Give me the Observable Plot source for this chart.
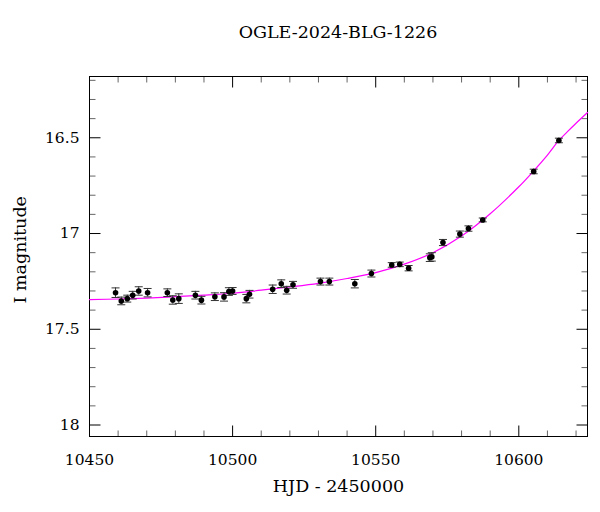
<!DOCTYPE html>
<html><head><meta charset="utf-8">
<script src="https://cdn.jsdelivr.net/npm/d3@7"></script>
<script src="https://cdn.jsdelivr.net/npm/@observablehq/plot@0.6"></script>
<style>
body{margin:0;background:#fff;font-family:"DejaVu Serif",serif;color:#000}
#title{position:relative;height:56px;width:600px}
#title span{position:absolute;left:89px;width:498px;text-align:center;top:22px;font-size:17.5px}
</style></head><body>
<div id="title"><span id="ttl"></span></div>
<div id="chart"></div>
<script>
const chartTitle = "OGLE-2024-BLG-1226";
const xLabel = "HJD - 2450000";
const yLabel = "I magnitude";

const hjd = [10459.1,10461.1,10463.2,10465.1,10467.2,10470.3,10477.2,10479.1,10481.2,10487.0,10489.1,10493.8,10497.0,10498.7,10500.0,10504.8,10505.9,10514.0,10517.0,10518.9,10521.1,10530.7,10533.8,10542.7,10548.5,10555.6,10558.4,10561.5,10568.9,10569.6,10573.5,10579.4,10582.4,10587.4,10605.2,10614.0];
const mag = [17.309,17.352,17.340,17.322,17.300,17.309,17.309,17.347,17.340,17.322,17.348,17.330,17.331,17.303,17.300,17.340,17.317,17.291,17.262,17.296,17.268,17.251,17.251,17.262,17.209,17.164,17.161,17.181,17.126,17.122,17.047,17.003,16.974,16.929,16.676,16.514];
const magErr = [0.025,0.020,0.018,0.020,0.022,0.022,0.020,0.022,0.025,0.020,0.020,0.020,0.022,0.020,0.018,0.022,0.020,0.022,0.020,0.020,0.018,0.018,0.018,0.022,0.018,0.012,0.012,0.014,0.020,0.022,0.016,0.016,0.014,0.010,0.012,0.012];

const modelHjd = [10450,10460,10470,10480,10490,10500,10510,10520,10530,10540,10550,10560,10570,10580,10590,10600,10605,10610,10614,10617,10620,10624];
const modelMag = [17.345,17.342,17.337,17.330,17.322,17.312,17.296,17.279,17.260,17.235,17.204,17.160,17.100,17.013,16.897,16.756,16.676,16.590,16.514,16.468,16.424,16.368];

const xMajor = [10450,10500,10550,10600];
const xMinor = [10460,10470,10480,10490,10510,10520,10530,10540,10560,10570,10580,10590,10610,10620];
const yMajor = [16.5,17,17.5,18];
const yMinor = [16.2,16.3,16.4,16.6,16.7,16.8,16.9,17.1,17.2,17.3,17.4,17.6,17.7,17.8,17.9];

document.getElementById("ttl").textContent = chartTitle;

const obs = hjd.map((x,i)=>({x, m: mag[i], e: magErr[i]}));
const model = modelHjd.map((x,i)=>({x, m: modelMag[i]}));

const sym = (dx,dy)=>({draw(ctx,size){const l=Math.sqrt(size/Math.PI);ctx.moveTo(0,0);ctx.lineTo(dx*l,dy*l);}});
const capSym = {draw(ctx,size){const l=Math.sqrt(size/Math.PI);ctx.moveTo(-l,0);ctx.lineTo(l,0);}};
const up=sym(0,-1), down=sym(0,1), right=sym(1,0), left=sym(-1,0);
const MAJ=11, MIN=6;
const tk = (data, ch, anchor, symbol, r, stroke) => Plot.dot(data, {[ch]: d=>d, frameAnchor: anchor, symbol, r, stroke, strokeWidth:1, fill:"none"});

const plot = Plot.plot({
  width: 600, height: 456,
  marginLeft: 89, marginRight: 13, marginTop: 20, marginBottom: 76,
  style: {fontFamily: "DejaVu Serif, serif", fontSize: "15.5px", color: "#000", background: "#fff"},
  x: {domain: [10450, 10624]},
  y: {domain: [16.18, 18.06], reverse: true},
  marks: [
    tk(xMajor,"x","bottom",up,MAJ,"#000"), tk(xMinor,"x","bottom",up,MIN,"#666"),
    tk(xMajor,"x","top",down,MAJ,"#000"), tk(xMinor,"x","top",down,MIN,"#666"),
    tk(yMajor,"y","left",right,MAJ,"#000"), tk(yMinor,"y","left",right,MIN,"#666"),
    tk(yMajor,"y","right",left,MAJ,"#000"), tk(yMinor,"y","right",left,MIN,"#666"),
    Plot.frame({stroke: "#000"}),
    Plot.axisX(xMajor, {anchor: "bottom", tickSize: 0, tickPadding: 17, tickFormat: d=>String(d), label: null}),
    Plot.axisY(yMajor, {anchor: "left", tickSize: 0, tickPadding: 10, tickFormat: d=>String(d), label: null}),
    Plot.text([xLabel], {frameAnchor: "bottom", dy: 55, text: d=>d, fontSize: 17.5}),
    Plot.text([yLabel], {frameAnchor: "left", dx: -69, dy: 47, rotate: -90, text: d=>d, fontSize: 17.5}),
    Plot.line(model, {x: "x", y: "m", stroke: "#ff00ff", strokeWidth: 1.2, curve: "catmull-rom"}),
    Plot.ruleX(obs, {x: "x", y1: d=>d.m-d.e, y2: d=>d.m+d.e, stroke: "#333", strokeWidth: 1}),
    Plot.dot(obs, {x: "x", y: d=>d.m-d.e, symbol: capSym, r: 4, stroke: "#333", strokeWidth: 1, fill: "none"}),
    Plot.dot(obs, {x: "x", y: d=>d.m+d.e, symbol: capSym, r: 4, stroke: "#333", strokeWidth: 1, fill: "none"}),
    Plot.dot(obs, {x: "x", y: "m", r: 2.8, fill: "#000", stroke: "none"})
  ]
});
document.getElementById("chart").appendChild(plot);
</script>
</body></html>
